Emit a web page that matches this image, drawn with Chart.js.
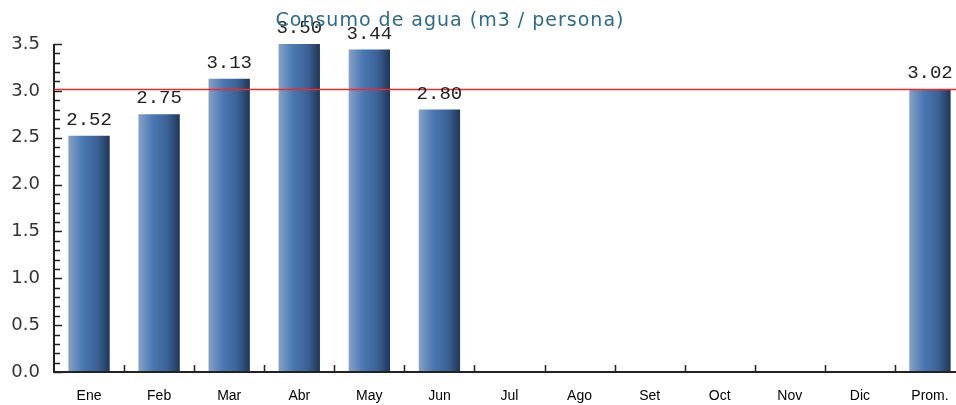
<!DOCTYPE html>
<html>
<head>
<meta charset="utf-8">
<script src="https://cdn.jsdelivr.net/npm/chart.js@4/dist/chart.umd.min.js"></script>
<style>
html,body{margin:0;padding:0;background:#fff;overflow:hidden;}
#wrap{width:956px;height:405px;position:relative;overflow:hidden;}
canvas{display:block;}
</style>
</head>
<body>
<div id="wrap"><canvas id="c" width="965" height="405"></canvas></div>
<script>
const titleText = "Consumo de agua (m3 / persona)";
const categories = ["Ene","Feb","Mar","Abr","May","Jun","Jul","Ago","Set","Oct","Nov","Dic","Prom."];
const consumo = [2.52, 2.75, 3.13, 3.50, 3.44, 2.80, null, null, null, null, null, null, 3.02];
const promedio = 3.02;
const yMin = 0, yMax = 3.5, yStep = 0.5, yMinorStep = 0.1;
const barPct = 0.59;

function barGradient(ctx) {
  const chart = ctx.chart;
  const xs = chart.scales && chart.scales.x;
  if (!xs || !chart.chartArea) return '#4a78b0';
  const cx = xs.getPixelForValue(ctx.dataIndex);
  const cw = (xs.width) / categories.length;
  const w = cw * barPct;
  const x0 = cx - w / 2, x1 = cx + w / 2;
  if (!isFinite(x0) || !isFinite(x1) || x1 <= x0) return '#4a78b0';
  const g = chart.ctx.createLinearGradient(x0, 0, x1, 0);
  g.addColorStop(0, '#86a2c6');
  g.addColorStop(0.35, '#4a78b2');
  g.addColorStop(0.7, '#3b6296');
  g.addColorStop(1, '#1f3656');
  return g;
}

const decorPlugin = {
  id: 'decor',
  afterDatasetsDraw(chart) {
    const ctx = chart.ctx;
    const xs = chart.scales.x, ys = chart.scales.y;
    const area = chart.chartArea;
    ctx.save();
    ctx.strokeStyle = '#222';
    ctx.lineWidth = 2;
    ctx.beginPath();
    ctx.moveTo(area.left, ys.getPixelForValue(yMax));
    ctx.lineTo(area.left, ys.getPixelForValue(yMin));
    ctx.lineTo(chart.width, ys.getPixelForValue(yMin));
    ctx.stroke();
    ctx.lineWidth = 1.5;
    const n = Math.round((yMax - yMin) / yMinorStep);
    for (let i = 0; i <= n; i++) {
      const v = yMin + i * yMinorStep;
      const y = Math.round(ys.getPixelForValue(v)) + 0.5;
      const major = (i % Math.round(yStep / yMinorStep)) === 0;
      ctx.beginPath();
      ctx.moveTo(area.left, y);
      ctx.lineTo(area.left + (major ? 8 : 6), y);
      ctx.stroke();
    }
    const y0 = ys.getPixelForValue(yMin);
    for (let i = 0; i < categories.length - 1; i++) {
      const x = Math.round((xs.getPixelForValue(i) + xs.getPixelForValue(i + 1)) / 2) + 0.5;
      ctx.beginPath();
      ctx.moveTo(x, y0);
      ctx.lineTo(x, y0 - 7);
      ctx.stroke();
    }
    const ya = Math.round(ys.getPixelForValue(promedio)) + 0.5;
    ctx.strokeStyle = '#ee2a2a';
    ctx.lineWidth = 1.5;
    ctx.beginPath();
    ctx.moveTo(area.left, ya);
    ctx.lineTo(chart.width, ya);
    ctx.stroke();
    ctx.fillStyle = '#222';
    ctx.font = '19px "Liberation Mono", "DejaVu Sans Mono", monospace';
    ctx.textAlign = 'center';
    ctx.textBaseline = 'alphabetic';
    chart.getDatasetMeta(0).data.forEach((el, i) => {
      const v = consumo[i];
      if (v === null || v === undefined) return;
      ctx.fillText(v.toFixed(2), el.x, el.y - 11);
    });
    ctx.fillStyle = '#2d6a8c';
    ctx.font = '19px "DejaVu Sans", sans-serif';
    try { ctx.letterSpacing = '1px'; } catch (e) {}
    ctx.textAlign = 'center';
    ctx.textBaseline = 'middle';
    ctx.fillText(titleText, 450, 21);
    ctx.restore();
  }
};

new Chart(document.getElementById('c'), {
  type: 'bar',
  data: {
    labels: categories,
    datasets: [{
      data: consumo,
      backgroundColor: barGradient,
      borderWidth: 0,
      barPercentage: barPct,
      categoryPercentage: 1.0
    }]
  },
  options: {
    responsive: false,
    animation: false,
    layout: { padding: { top: 44, right: 0, left: 0, bottom: 0 } },
    plugins: { legend: { display: false }, tooltip: { enabled: false }, title: { display: false } },
    scales: {
      x: {
        offset: true,
        grid: { display: false, drawTicks: false },
        border: { display: false },
        ticks: { color: '#000', font: { family: '"Liberation Sans", Arial, sans-serif', size: 14 }, padding: 16, maxRotation: 0, autoSkip: false },
        afterFit(scale) { scale.height = 33; }
      },
      y: {
        min: yMin, max: yMax,
        grid: { display: false, drawTicks: false },
        border: { display: false },
        ticks: { stepSize: yStep, color: '#333', font: { family: '"DejaVu Sans", sans-serif', size: 18 }, padding: 14, callback: v => Number(v).toFixed(1) },
        afterFit(scale) { scale.width = 54; }
      }
    }
  },
  plugins: [decorPlugin]
});
</script>
</body>
</html>
